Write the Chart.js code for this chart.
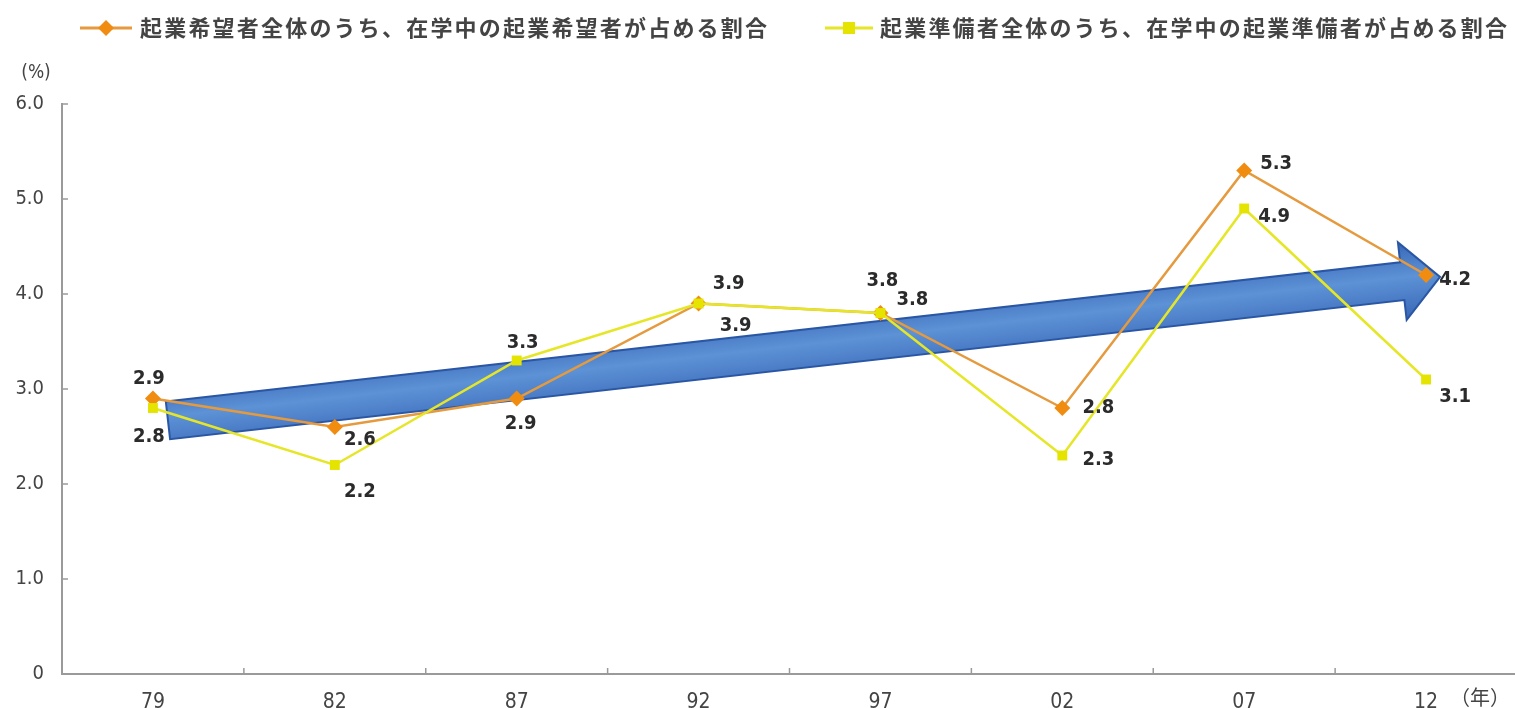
<!DOCTYPE html>
<html>
<head>
<meta charset="utf-8">
<script src="https://cdn.jsdelivr.net/npm/chart.js@4"></script>
<style>
  html, body { margin: 0; padding: 0; background: #fff; overflow: hidden; }
  canvas { display: block; }
</style>
</head>
<body>
<canvas id="lineChart" width="1525" height="708"></canvas>
<script>
const years = ["79", "82", "87", "92", "97", "02", "07", "12"];
const hopefulShare = [2.9, 2.6, 2.9, 3.9, 3.8, 2.8, 5.3, 4.2];
const preparingShare = [2.8, 2.2, 3.3, 3.9, 3.8, 2.3, 4.9, 3.1];
const yTickValues = [0, 1, 2, 3, 4, 5, 6];
const seriesNames = [
  "起業希望者全体のうち、在学中の起業希望者が占める割合",
  "起業準備者全体のうち、在学中の起業準備者が占める割合",
];

// where each value label sits relative to its point (px)
const hopefulLabelShift = [[-4, -20], [25, 13], [4, 25], [37, 22], [32, -13], [36, 0], [32, -7], [29, 5]];
const preparingLabelShift = [[-4, 29], [25, 27], [6, -18], [30, -20], [2, -32], [36, 4], [30, 8], [29, 17]];

// trend arrow runs from the first category to the last
const trendStart = 2.67;
const trendEnd = 4.18;

const ORANGE = "#f08c10";
const ORANGE_LINE = "#e59a3e";
const YELLOW = "#e4e400";
const YELLOW_LINE = "#e6e628";
const AXIS = "#9a9a9a";
const numFont = "'Liberation Sans Narrow', 'DejaVu Sans Condensed', 'Open Sans', sans-serif";
const jpFont = "'Noto Sans CJK JP', sans-serif";

const trendArrow = {
  id: "trendArrow",
  beforeDatasetsDraw(chart) {
    const { ctx, scales } = chart;
    const x0 = scales.x.getPixelForValue(0) + 15;
    const y0 = scales.y.getPixelForValue(trendStart);
    const x1 = scales.x.getPixelForValue(years.length - 1) + 14;
    const y1 = scales.y.getPixelForValue(trendEnd);
    const len = Math.hypot(x1 - x0, y1 - y0);
    const ang = Math.atan2(y1 - y0, x1 - x0);
    const half = 19, headHalf = 39, headLen = 38;

    ctx.save();
    ctx.translate(x0, y0);
    ctx.rotate(ang);
    const grad = ctx.createLinearGradient(0, -headHalf, 0, headHalf);
    grad.addColorStop(0, "#3867b6");
    grad.addColorStop(0.45, "#5d92d6");
    grad.addColorStop(1, "#3867b6");
    ctx.beginPath();
    ctx.moveTo(0, -half);
    ctx.lineTo(len - headLen, -half);
    ctx.lineTo(len - headLen, -headHalf);
    ctx.lineTo(len, 0);
    ctx.lineTo(len - headLen, headHalf);
    ctx.lineTo(len - headLen, half);
    ctx.lineTo(0, half);
    ctx.closePath();
    ctx.fillStyle = grad;
    ctx.fill();
    ctx.strokeStyle = "#2a56a4";
    ctx.lineWidth = 2;
    ctx.stroke();
    ctx.restore();
  },
};

// short tick marks pointing into the plot, like the printed original
const innerTicks = {
  id: "innerTicks",
  afterDraw(chart) {
    const { ctx, scales, chartArea } = chart;
    ctx.save();
    ctx.strokeStyle = AXIS;
    ctx.lineWidth = 1.5;
    ctx.beginPath();
    yTickValues.forEach((v) => {
      const y = scales.y.getPixelForValue(v);
      ctx.moveTo(chartArea.left, y);
      ctx.lineTo(chartArea.left + 6, y);
    });
    for (let i = 0; i < years.length - 1; i++) {
      const x = scales.x.getPixelForValue(i + 0.5);
      ctx.moveTo(x, chartArea.bottom);
      ctx.lineTo(x, chartArea.bottom - 6);
    }
    ctx.stroke();
    ctx.restore();
  },
};

const valueLabels = {
  id: "valueLabels",
  afterDatasetsDraw(chart) {
    const { ctx } = chart;
    const shifts = [hopefulLabelShift, preparingLabelShift];
    ctx.save();
    ctx.font = "bold 20px " + numFont;
    ctx.fillStyle = "#2b2b2b";
    ctx.textAlign = "center";
    ctx.textBaseline = "middle";
    chart.data.datasets.forEach((ds, i) => {
      chart.getDatasetMeta(i).data.forEach((pt, j) => {
        const [dx, dy] = shifts[i][j];
        ctx.fillText(ds.data[j].toFixed(1), pt.x + dx, pt.y + dy);
      });
    });
    ctx.restore();
  },
};

function drawMarker(ctx, style, color, x, y) {
  ctx.fillStyle = color;
  ctx.beginPath();
  if (style === "rectRot") {
    ctx.moveTo(x, y - 8);
    ctx.lineTo(x + 8, y);
    ctx.lineTo(x, y + 8);
    ctx.lineTo(x - 8, y);
  } else {
    ctx.rect(x - 6, y - 6, 12, 12);
  }
  ctx.closePath();
  ctx.fill();
}

const legendAndUnits = {
  id: "legendAndUnits",
  afterDraw(chart) {
    const { ctx } = chart;
    const items = [
      { lineFrom: 80, lineTo: 132, textX: 140, color: ORANGE, line: ORANGE_LINE, style: "rectRot" },
      { lineFrom: 825, lineTo: 873, textX: 880, color: YELLOW, line: YELLOW_LINE, style: "rect" },
    ];
    ctx.save();
    items.forEach((it, i) => {
      const y = 28;
      ctx.strokeStyle = it.line;
      ctx.lineWidth = 3;
      ctx.beginPath();
      ctx.moveTo(it.lineFrom, y);
      ctx.lineTo(it.lineTo, y);
      ctx.stroke();
      drawMarker(ctx, it.style, it.color, (it.lineFrom + it.lineTo) / 2, y);
      ctx.font = "bold 22px " + jpFont;
      ctx.letterSpacing = "2.2px";
      ctx.fillStyle = "#444";
      ctx.textBaseline = "middle";
      ctx.textAlign = "left";
      ctx.fillText(seriesNames[i], it.textX, y);
    });
    ctx.letterSpacing = "0px";
    ctx.font = "19px " + numFont;
    ctx.fillStyle = "#444";
    ctx.textAlign = "center";
    ctx.fillText("(%)", 36, 73);
    ctx.font = "20px " + jpFont;
    ctx.textAlign = "left";
    ctx.fillText("（年）", 1450, 697);
    ctx.restore();
  },
};

const chartElement = document.getElementById("lineChart").getContext("2d");

const lineChart = new Chart(chartElement, {
  type: "line",
  data: {
    labels: years,
    datasets: [
      {
        label: seriesNames[0],
        data: hopefulShare,
        order: 1,
        borderColor: ORANGE_LINE,
        backgroundColor: ORANGE,
        borderWidth: 2.5,
        pointStyle: "rectRot",
        pointRadius: 8,
        pointBorderWidth: 0,
        tension: 0,
      },
      {
        label: seriesNames[1],
        data: preparingShare,
        order: 0,
        borderColor: YELLOW_LINE,
        backgroundColor: YELLOW,
        borderWidth: 2.5,
        pointStyle: "rect",
        pointRadius: 7,
        pointBorderWidth: 0,
        tension: 0,
      },
    ],
  },
  options: {
    responsive: false,
    animation: false,
    layout: { padding: { top: 104, right: 0, left: 0, bottom: 0 } },
    plugins: {
      legend: { display: false },
      tooltip: { enabled: false },
    },
    scales: {
      x: {
        offset: true,
        afterFit(scale) { scale.height = 34; },
        border: { color: AXIS, width: 2 },
        grid: { display: false },
        ticks: {
          color: "#444",
          padding: 8,
          font: { family: numFont, size: 21 },
        },
      },
      y: {
        min: 0,
        max: 6,
        afterFit(scale) { scale.width = 62; },
        afterBuildTicks(scale) {
          scale.ticks = yTickValues.map((v) => ({ value: v }));
        },
        border: { color: AXIS, width: 2 },
        grid: { display: false },
        ticks: {
          color: "#444",
          padding: 10,
          font: { family: numFont, size: 20 },
          callback: (v) => (v === 0 ? "0" : v.toFixed(1)),
        },
      },
    },
  },
  plugins: [trendArrow, valueLabels, innerTicks, legendAndUnits],
});
</script>
</body>
</html>
